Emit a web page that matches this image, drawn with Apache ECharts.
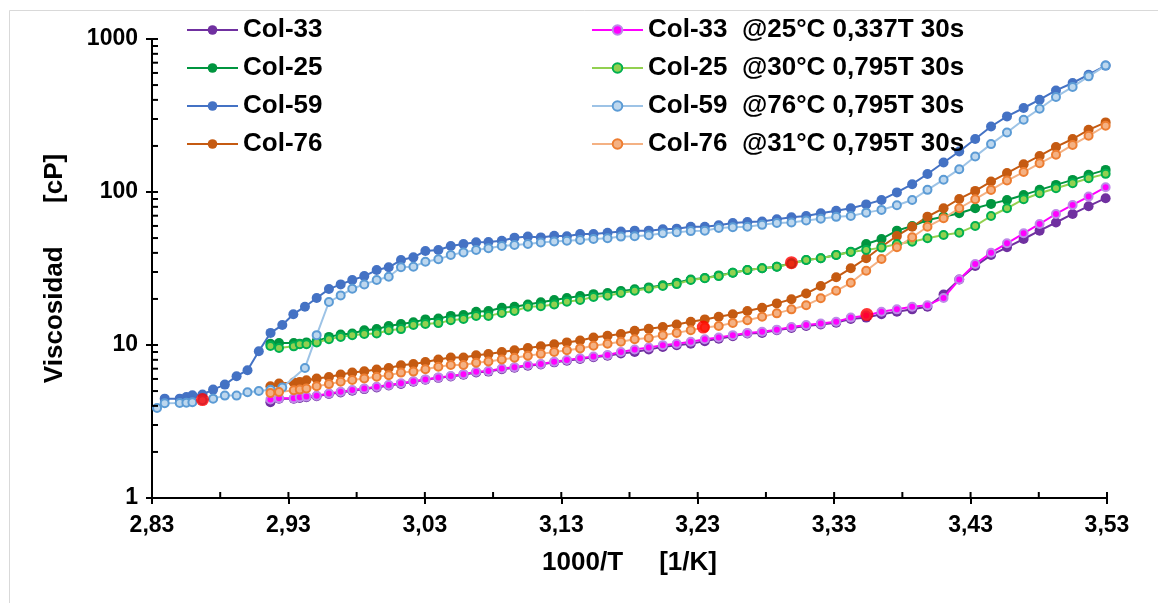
<!DOCTYPE html>
<html><head><meta charset="utf-8">
<script src="https://cdn.jsdelivr.net/npm/echarts@6/dist/echarts.min.js"></script>
<style>html,body{margin:0;padding:0;background:#fff}#c{width:1158px;height:603px}</style>
</head><body><div id="c"></div>
<script>
// ---- x positions (1000/T) ----
const xHot = [2.8337, 2.8393, 2.8503, 2.8552, 2.8596, 2.8670, 2.8748, 2.8834, 2.8920, 2.9000, 2.9083, 2.9169, 2.9255, 2.9336, 2.9421];
const xCluster = [2.9168, 2.9231, 2.9339, 2.9383, 2.9432];
const xCommon = [2.9507, 2.9597, 2.9683, 2.9768, 2.9856, 2.9947, 3.0035, 3.0125, 3.0216, 3.0304, 3.0399, 3.0490, 3.0583, 3.0676, 3.0766, 3.0864, 3.0957, 3.1055, 3.1150, 3.1248, 3.1341, 3.1438, 3.1536, 3.1639, 3.1737,
  3.1838, 3.1941, 3.2044, 3.2146, 3.2249, 3.2352, 3.2454, 3.2557, 3.2664, 3.2772, 3.2880, 3.2987, 3.3095, 3.3202, 3.3315, 3.3422, 3.3535, 3.3647, 3.3760, 3.3872, 3.3984, 3.4102, 3.4217, 3.4334, 3.4450, 3.4567, 3.4689, 3.4806, 3.4926, 3.5048, 3.5165, 3.5290];

// ---- viscosity values [cP] ----
// Col-59 pair: on xHot + xCommon
const col59 = [null, 4.46, 4.46, 4.57, 4.69, 4.75, 5.11, 5.51, 6.25, 6.84, 9.11, 12.0, 13.5, 15.9, 17.8,
  20.3, 23.2, 24.9, 26.6, 28.2, 30.9, 32.2, 35.9, 37.4, 41.2, 41.8, 44.4, 45.7, 46.9, 47.1, 48.0, 50.3, 51.1, 50.5, 51.8, 51.4, 53.2, 53.2, 54.2, 55.1,
  55.9, 55.9, 57.1, 57.6, 59.3, 59.3, 60.6, 62.7, 63.7, 64.2, 66.4, 68.4, 69.6, 72.6, 75.5, 78.4, 83.0, 88.7, 99.4, 112.5, 131.1, 155.8, 184, 221.8, 268, 312, 354, 401, 461, 516, 584, 670];
const col59b = [3.87, 4.16, 4.18, 4.2, 4.23, 4.35, 4.46, 4.67, 4.67, 4.91, 5.0, 5.1, 5.27, null, 7.08,
  11.6, 19.1, 21.1, 23.3, 24.9, 26.6, 27.9, 32.2, 32.5, 35.0, 36.3, 38.7, 40.3, 41.8, 42.9, 44.4, 45.1, 45.7, 46.8, 47.5, 48.0, 48.6, 49.3, 49.8, 51.1,
  51.4, 52.1, 53.7, 54.5, 55.5, 55.9, 58.1, 58.9, 59.3, 61.0, 62.7, 63.2, 65.1, 66.9, 68.8, 69.7, 73.3, 76.4, 82.0, 88.7, 103.3, 120.4, 141, 170.5, 205.6, 245, 297, 350, 418, 486, 570, 670];
// Other pairs: on xCluster + xCommon
const col25 = [10.2, 10.3, 10.3, 10.2, 10.4,
  10.6, 11.3, 11.7, 11.9, 12.5, 12.7, 13.3, 13.7, 14.1, 14.7, 14.9, 15.5, 15.7, 16.5, 16.7, 17.5, 17.8, 18.4, 19.0, 19.7, 20.3, 20.9, 21.5, 21.9, 22.5,
  23.1, 23.8, 24.6, 25.5, 26.8, 27.4, 28.5, 29.7, 30.9, 31.7, 32.5, 34.2, 35.9, 36.9, 38.7, 40.7, 45.7, 49.3, 55.9, 60.0, 65.6, 69.0, 72.6, 78.3, 83.6, 88.7, 95.7, 103.3, 111.3, 120, 129.4, 139.5];
const col25b = [9.86, 9.57, 9.8, 10.1, 10.1,
  10.4, 10.9, 11.3, 11.6, 11.8, 11.9, 12.5, 12.7, 13.5, 13.7, 13.9, 14.5, 14.8, 15.5, 15.5, 16.2, 16.7, 17.8, 17.9, 18.4, 19.2, 19.7, 20.6, 21.0, 21.9,
  22.6, 23.4, 24.3, 25.0, 26.6, 27.3, 28.2, 29.7, 30.9, 31.7, 32.5, 34.0, 35.9, 36.9, 38.7, 40.5, 41.8, 43.3, 45.7, 47.3, 49.8, 52.4, 54.2, 60.0, 69.7, 78.3, 89.7, 98.2, 105.9, 114.2, 123, 131.4];
const col76 = [5.37, 5.60, 5.68, 5.74, 5.88,
  6.03, 6.18, 6.41, 6.6, 6.74, 6.91, 7.08, 7.37, 7.5, 7.75, 8.04, 8.28, 8.28, 8.58, 8.72, 9.01, 9.25, 9.57, 9.8, 10.1, 10.4, 10.7, 11.2, 11.5, 11.8,
  12.4, 12.75, 13.1, 13.6, 14.2, 14.7, 15.3, 15.9, 16.7, 17.5, 18.7, 19.9, 21.7, 24.3, 27.7, 31.7, 36.9, 43.9, 51.6, 59.3, 69.0, 78.3, 90.1, 101.7, 117, 133, 152, 172, 197, 222, 255, 285];
const col76b = [4.86, 4.93, 5.06, 5.11, 5.19,
  5.37, 5.55, 5.75, 5.9, 6.05, 6.2, 6.35, 6.6, 6.7, 6.95, 7.2, 7.4, 7.4, 7.65, 7.8, 8.05, 8.25, 8.5, 8.75, 9.0, 9.25, 9.5, 9.9, 10.2, 10.5,
  10.9, 11.1, 11.6, 12.0, 12.5, 13.0, 13.3, 13.95, 14.5, 15.3, 16.1, 17.1, 18.2, 20.2, 22.6, 25.5, 30.6, 36.5, 43.5, 50.6, 59.3, 67.3, 78.3, 89.7, 103.2, 118.8, 135, 154, 175, 203, 233, 271];
const col33 = [4.22, 4.45, 4.45, 4.5, 4.55,
  4.62, 4.78, 4.9, 5.03, 5.15, 5.28, 5.43, 5.57, 5.76, 5.92, 6.1, 6.22, 6.4, 6.62, 6.7, 6.95, 7.1, 7.33, 7.46, 7.7, 7.9, 8.1, 8.32, 8.52, 8.8,
  9.0, 9.34, 9.72, 9.98, 10.2, 10.6, 11.0, 11.4, 11.9, 12.0, 12.5, 12.9, 13.3, 13.6, 14.0, 14.8, 15.1, 15.9, 16.5, 17.1, 17.8, 21.4, 26.8, 32.8, 38.7, 43.5, 49.3, 55.9, 63.2, 71.9, 80.8, 91.1];
const col33b = [4.4, 4.48, 4.48, 4.55, 4.6,
  4.66, 4.82, 4.95, 5.08, 5.2, 5.33, 5.48, 5.62, 5.8, 5.96, 6.14, 6.27, 6.45, 6.68, 6.76, 7.02, 7.15, 7.4, 7.52, 7.78, 7.98, 8.2, 8.4, 8.6, 9.0,
  9.34, 9.62, 9.98, 10.2, 10.5, 10.9, 11.2, 11.6, 12.0, 12.2, 12.6, 13.1, 13.5, 13.8, 14.2, 15.1, 15.6, 16.5, 17.1, 17.8, 18.2, 20.3, 26.8, 33.8, 40.1, 46.2, 53.7, 61.8, 71.9, 82.3, 93.3, 107.5];
// red highlighted points
const redX = [2.867, 3.2341, 3.2987, 3.354];
const redY = [4.4, 13.1, 34.5, 15.8];

const names = ['Col-33', 'Col-25', 'Col-59', 'Col-76',
  'Col-33  @25°C 0,337T 30s', 'Col-25  @30°C 0,795T 30s', 'Col-59  @76°C 0,795T 30s', 'Col-76  @31°C 0,795T 30s'];
// axis ticks
const X_MIN = 2.83, X_MAX = 3.53, Y_MIN = 1, Y_MAX = 1000;
const yInsideTicks = [1, 2, 3, 4, 5, 6, 7, 8, 9, 10, 20, 30, 40, 50, 60, 70, 80, 90, 100, 200, 300, 400, 500, 600, 700, 800, 900, 1000];
const xInsideTicks = [2.83, 2.88, 2.93, 2.98, 3.03, 3.08, 3.13, 3.18, 3.23, 3.28, 3.33, 3.38, 3.43, 3.48, 3.53];

const FONT = '"Liberation Sans", Arial, sans-serif';
const xHotAll = xHot.concat(xCommon);
const xLowAll = xCluster.concat(xCommon);
function pairs(xs, ys) { return xs.map((x, i) => [x, ys[i]]).filter(p => p[1] != null); }

function solid(name, color, xs, ys) {
  return { name, type: 'line', data: pairs(xs, ys), symbol: 'circle', symbolSize: 10,
    lineStyle: { color, width: 2 }, itemStyle: { color, borderWidth: 0 }, animation: false, z: 2 };
}
function light(name, line, fill, border, xs, ys) {
  return { name, type: 'line', data: pairs(xs, ys), symbol: 'circle', symbolSize: 8,
    lineStyle: { color: line, width: 2 }, itemStyle: { color: fill, borderColor: border, borderWidth: 2 }, animation: false, z: 3 };
}
function tickSeries(data, dir) {
  return { type: 'custom', coordinateSystem: 'cartesian2d', data, silent: true, clip: false, z: 10, animation: false,
    renderItem: (params, api) => {
      const p = api.coord([api.value(0), api.value(1)]);
      const shape = dir === 'y' ? { x1: p[0], y1: p[1], x2: p[0] + 6, y2: p[1] }
                                : { x1: p[0], y1: p[1], x2: p[0], y2: p[1] - 6 };
      return { type: 'line', shape, style: { stroke: '#000', lineWidth: 2 } };
    } };
}

const series = [
  solid(names[0], '#7030A0', xLowAll, col33),
  solid(names[1], '#00953F', xLowAll, col25),
  solid(names[2], '#4472C4', xHotAll, col59),
  solid(names[3], '#C55A11', xLowAll, col76),
  light(names[4], '#FF00FF', '#FF00FF', '#BE8AE8', xLowAll, col33b),
  light(names[5], '#92D050', '#92D050', '#00B050', xLowAll, col25b),
  light(names[6], '#9DC3E6', '#BDD7EE', '#5B9BD5', xHotAll, col59b),
  light(names[7], '#F4B183', '#F4B183', '#ED7D31', xLowAll, col76b),
  { type: 'scatter', data: pairs(redX, redY), symbol: 'circle', symbolSize: 13,
    itemStyle: { color: '#FF0000' }, z: 5, animation: false, silent: true },
  tickSeries(yInsideTicks.map(v => [X_MIN, v]), 'y'),
  tickSeries(xInsideTicks.map(v => [v, Y_MIN]), 'x')
];

const legendText = { fontSize: 26, fontWeight: 'bold', fontFamily: FONT, color: '#000', lineHeight: 26 };
const chart = echarts.init(document.getElementById('c'), null, { renderer: 'canvas' });
chart.setOption({
  backgroundColor: '#fff',
  animation: false,
  graphic: [{ type: 'rect', left: 7, top: 8, shape: { width: 1160, height: 610 },
    style: { fill: null, stroke: '#d9d9d9', lineWidth: 1 }, silent: true, z: -1 }],
  legend: [
    { data: names.slice(0, 4), orient: 'vertical', left: 186, top: 17, itemWidth: 51, itemHeight: 12, itemGap: 12, padding: 0, textStyle: legendText, selectedMode: false },
    { data: names.slice(4), orient: 'vertical', left: 591, top: 17, itemWidth: 51, itemHeight: 12, itemGap: 12, padding: 0, textStyle: legendText, selectedMode: false }
  ],
  grid: { left: 152, right: 51, top: 39, bottom: 105, containLabel: false },
  xAxis: { type: 'value', min: X_MIN, max: X_MAX, interval: 0.1,
      name: '1000/T     [1/K]', nameLocation: 'middle', nameGap: 52,
      nameTextStyle: { fontSize: 26, fontWeight: 'bold', fontFamily: FONT, color: '#000' },
      axisLine: { show: true, lineStyle: { color: '#000', width: 2 } },
      axisTick: { show: true, inside: false, length: 6, lineStyle: { color: '#000', width: 2 } },
      axisLabel: { fontSize: 23, fontWeight: 'bold', fontFamily: FONT, color: '#000', margin: 16,
        formatter: v => v.toFixed(2).replace('.', ',') },
      splitLine: { show: false } },
  yAxis: { type: 'log', logBase: 10, min: Y_MIN, max: Y_MAX,
      name: 'Viscosidad      [cP]', nameLocation: 'middle', nameGap: 84, nameRotate: 90,
      nameTextStyle: { fontSize: 26, fontWeight: 'bold', fontFamily: FONT, color: '#000' },
      axisLine: { show: true, lineStyle: { color: '#000', width: 2 } },
      axisTick: { show: true, inside: false, length: 6, lineStyle: { color: '#000', width: 2 } },
      axisLabel: { fontSize: 23, fontWeight: 'bold', fontFamily: FONT, color: '#000', margin: 14,
        formatter: v => String(v) },
      splitLine: { show: false } },
  series
});
</script></body></html>
